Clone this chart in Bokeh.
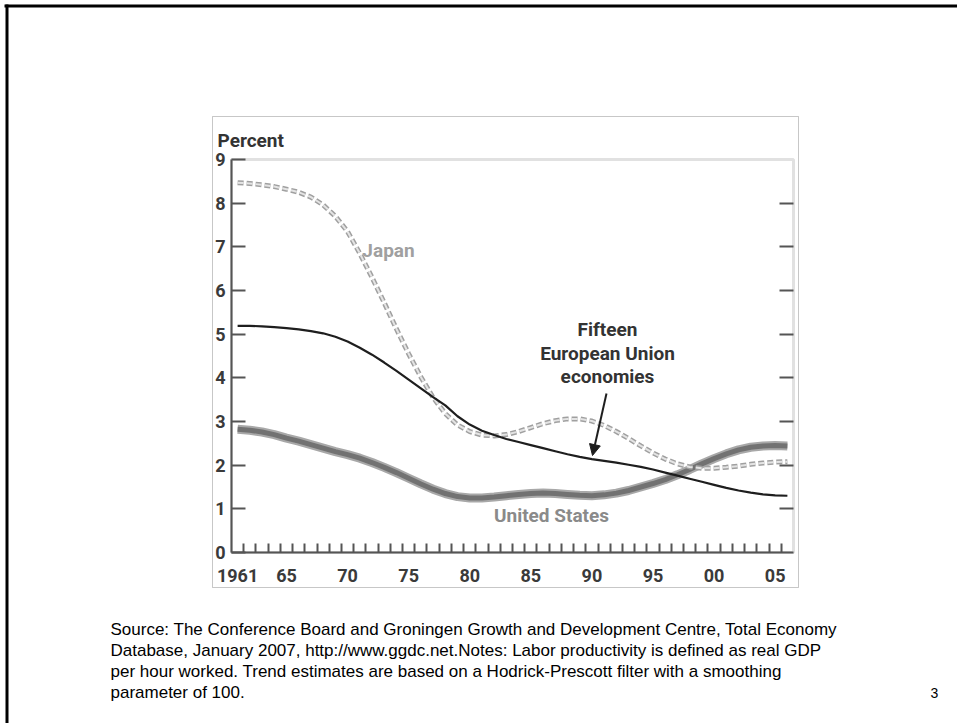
from bokeh.plotting import figure
from bokeh.models import (Range1d, LinearAxis, FixedTicker, Label, BoxAnnotation,
                          Arrow, NormalHead)
from bokeh.embed import file_html
from bokeh.resources import INLINE

# ---------------- data ----------------
years = list(range(1961, 2007))
us = [2.82, 2.80, 2.76, 2.70, 2.62, 2.55, 2.47, 2.39, 2.31, 2.24,
      2.16, 2.06, 1.95, 1.83, 1.70, 1.57, 1.45, 1.35, 1.28, 1.25,
      1.25, 1.27, 1.30, 1.33, 1.35, 1.36, 1.35, 1.33, 1.31, 1.30,
      1.32, 1.36, 1.42, 1.50, 1.58, 1.67, 1.78, 1.90, 2.03, 2.15,
      2.26, 2.35, 2.41, 2.44, 2.45, 2.44]
eu = [5.19, 5.19, 5.18, 5.16, 5.14, 5.11, 5.07, 5.02, 4.94, 4.83,
      4.69, 4.53, 4.35, 4.16, 3.96, 3.76, 3.56, 3.37, 3.12, 2.93,
      2.79, 2.69, 2.60, 2.53, 2.46, 2.39, 2.32, 2.25, 2.19, 2.14,
      2.10, 2.06, 2.01, 1.96, 1.90, 1.83, 1.76, 1.69, 1.62, 1.55,
      1.48, 1.42, 1.37, 1.33, 1.31, 1.30]
japan = [8.47, 8.45, 8.42, 8.38, 8.32, 8.25, 8.14, 7.96, 7.70, 7.35,
         6.85, 6.30, 5.72, 5.12, 4.55, 4.02, 3.55, 3.18, 2.92, 2.77,
         2.69, 2.67, 2.70, 2.77, 2.86, 2.95, 3.02, 3.06, 3.06, 3.01,
         2.91, 2.77, 2.61, 2.44, 2.28, 2.14, 2.03, 1.96, 1.93, 1.93,
         1.95, 1.98, 2.02, 2.05, 2.07, 2.08]
y_ticks = [0, 1, 2, 3, 4, 5, 6, 7, 8, 9]
x_label_years = [1961, 1965, 1970, 1975, 1980, 1985, 1990, 1995, 2000, 2005]
x_labels = ["1961", "65", "70", "75", "80", "85", "90", "95", "00", "05"]
y_title = "Percent"
series_labels = ["Japan", "Fifteen", "European Union", "economies", "United States"]
footnote_lines = [
    "Source: The Conference Board and Groningen Growth and Development Centre, Total Economy",
    "Database, January 2007, http://www.ggdc.net.Notes: Labor productivity is defined as real GDP",
    "per hour worked. Trend estimates are based on a Hodrick-Prescott filter with a smoothing",
    "parameter of 100.",
]
page_number = "3"

# ---------------- layout ----------------
W, H = 957, 723
FL, FR, FT, FB = 231, 793, 159, 552      # chart box edges in window pixels
X0, X1, Y0, Y1 = 1961, 2007, 0, 9

def dx(sx):
    return X0 + (sx - FL) * (X1 - X0) / (FR - FL)

def dy(sy):
    return Y0 + (FB - sy) * (Y1 - Y0) / (FB - FT)

BOLD = "Roboto"
REG = "Liberation Sans"

p = figure(width=W, height=H, output_backend="svg", toolbar_location=None,
           x_range=Range1d(dx(0), dx(W)),
           y_range=Range1d(dy(H), dy(0)),
           x_axis_location=None, y_axis_location=None, min_border=0)
p.title.visible = False
p.grid.visible = False
p.background_fill_color = "white"
p.border_fill_color = "white"
p.outline_line_color = None

# chart box (grey frame)
p.add_layout(BoxAnnotation(left=X0, right=X1, bottom=Y0, top=Y1, fill_alpha=0,
                           line_color="#9a9a9a", line_width=3, level="underlay"))

# axes drawn at the chart box edges
left = LinearAxis(ticker=FixedTicker(ticks=y_ticks), fixed_location=X0, bounds=(Y0, Y1))
left.axis_line_color = "#555555"
left.axis_line_width = 2
left.major_tick_in = 14
left.major_tick_out = 0
left.major_tick_line_color = "#555555"
left.major_tick_line_width = 2
left.minor_tick_line_color = None
left.major_label_standoff = 6
left.major_label_text_font = BOLD
left.major_label_text_font_style = "bold"
left.major_label_text_font_size = "18px"
left.major_label_text_color = "#3a3a3a"
p.add_layout(left, "left")

right = LinearAxis(ticker=FixedTicker(ticks=y_ticks[1:-1]), fixed_location=X1, bounds=(Y0, Y1))
right.axis_line_color = None
right.major_tick_in = 14
right.major_tick_out = 0
right.major_tick_line_color = "#555555"
right.major_tick_line_width = 2
right.minor_tick_line_color = None
right.major_label_text_alpha = 0
right.major_label_text_font_size = "1px"
p.add_layout(right, "right")

bottom = LinearAxis(ticker=FixedTicker(ticks=[y + 0.5 for y in x_label_years],
                                       minor_ticks=years[1:]),
                    fixed_location=Y0, bounds=(X0, X1))
bottom.major_label_overrides = {y + 0.5: lab for y, lab in zip(x_label_years, x_labels)}
bottom.axis_line_color = "#555555"
bottom.axis_line_width = 2
bottom.major_tick_line_color = None
bottom.minor_tick_in = 9
bottom.minor_tick_out = 0
bottom.minor_tick_line_color = "#555555"
bottom.minor_tick_line_width = 2
bottom.major_label_standoff = 10
bottom.major_label_text_font = BOLD
bottom.major_label_text_font_style = "bold"
bottom.major_label_text_font_size = "18px"
bottom.major_label_text_color = "#3a3a3a"
p.add_layout(bottom, "below")

xs = [y + 0.5 for y in years]

# United States: thick grey band
p.line(xs, us, line_color="#a8a8a8", line_width=9)
p.line(xs, us, line_color="#727272", line_width=5)
# Japan: hollow dashed line
p.line(xs, japan, line_color="#a0a0a0", line_width=5, line_dash="6 3")
p.line(xs, japan, line_color="#e4e4e4", line_width=2, line_dash="6 3")
# EU: thin black line
p.line(xs, eu, line_color="#1e1e1e", line_width=2.2)

# slide border (top and left) and picture box
p.add_layout(BoxAnnotation(left=dx(4), right=dx(W), top=dy(4), bottom=dy(7),
                           fill_color="black", fill_alpha=1, line_color=None))
p.add_layout(BoxAnnotation(left=dx(5), right=dx(8), top=dy(4), bottom=dy(H),
                           fill_color="black", fill_alpha=1, line_color=None))
p.add_layout(BoxAnnotation(left=dx(212), right=dx(798), top=dy(116), bottom=dy(587),
                           fill_alpha=0, line_color="#444444", line_width=1))

# texts
p.add_layout(Label(x=dx(217), y=dy(140), text=y_title, text_font=BOLD, text_font_style="bold",
                   text_font_size="19px", text_color="#333333",
                   text_align="left", text_baseline="middle"))
p.add_layout(Label(x=dx(388), y=dy(250), text=series_labels[0], text_font=BOLD,
                   text_font_style="bold", text_font_size="19px", text_color="#a0a0a0",
                   text_align="center", text_baseline="middle"))
for lab, sy in zip(series_labels[1:4], [329, 353, 376]):
    p.add_layout(Label(x=dx(607), y=dy(sy), text=lab, text_font=BOLD, text_font_style="bold",
                       text_font_size="19px", text_color="#333333",
                       text_align="center", text_baseline="middle"))
p.add_layout(Label(x=dx(551), y=dy(515), text=series_labels[4], text_font=BOLD,
                   text_font_style="bold", text_font_size="19px", text_color="#8a8a8a",
                   text_align="center", text_baseline="middle"))

p.add_layout(Arrow(end=NormalHead(size=11, fill_color="#1e1e1e", line_color="#1e1e1e"),
                   x_start=dx(606), y_start=dy(393), x_end=dx(592), y_end=dy(455),
                   line_color="#1e1e1e", line_width=2))

for line, sy in zip(footnote_lines, [629, 650, 671, 692]):
    p.add_layout(Label(x=dx(110), y=dy(sy), text=line, text_font=REG,
                       text_font_size="17px", text_color="black",
                       text_align="left", text_baseline="middle"))
p.add_layout(Label(x=dx(934), y=dy(692), text=page_number, text_font=REG,
                   text_font_size="14px", text_color="black",
                   text_align="center", text_baseline="middle"))

open("out.html", "w").write(file_html(p, INLINE))
